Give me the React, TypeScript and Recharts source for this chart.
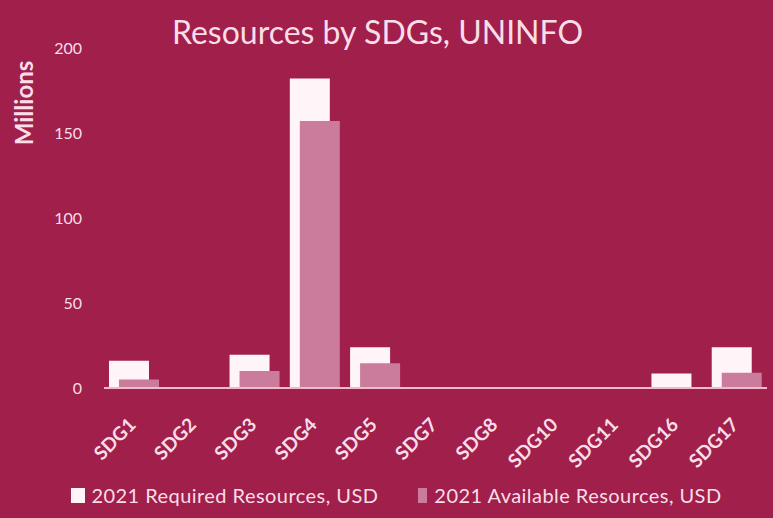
import React from 'react';
import { BarChart, Bar, XAxis, YAxis, Legend } from 'recharts';

const categories = ['SDG1', 'SDG2', 'SDG3', 'SDG4', 'SDG5', 'SDG7', 'SDG8', 'SDG10', 'SDG11', 'SDG16', 'SDG17'];
const requiredResources = [16, 0, 19.5, 182, 24, 0, 0, 0, 0, 8.5, 24];
const availableResources = [5, 0, 10, 157, 14.5, 0, 0, 0, 0, 0, 9];
const yTicks = [0, 50, 100, 150, 200];

const data = categories.map((c, i) => ({
  name: c,
  required: requiredResources[i],
  available: availableResources[i],
}));

const BG = '#A11F4B';
const TEXT = '#F9DDE8';
const REQ = '#FFF4F8';
const AVAIL = '#CB7B9B';
const FONT = 'Lato, "Open Sans", sans-serif';

const XTick = (props: any) => {
  const { x, y, payload } = props;
  const tx = x + 3;
  const ty = y + 30;
  return (
    <text
      x={tx}
      y={ty}
      transform={`rotate(-45 ${tx} ${ty})`}
      textAnchor="end"
      fill={TEXT}
      fontSize={19}
      fontWeight={700}
      fontFamily={FONT}
    >
      {payload.value}
    </text>
  );
};

const LegendContent = () => (
  <div
    style={{
      display: 'flex',
      justifyContent: 'center',
      alignItems: 'center',
      height: 30,
      fontFamily: FONT,
      fontSize: 20,
      letterSpacing: 0.45,
      color: TEXT,
      paddingLeft: 26,
    }}
  >
    <span style={{ display: 'inline-flex', alignItems: 'center', marginRight: 40 }}>
      <span style={{ width: 14, height: 15, background: REQ, display: 'inline-block', marginRight: 6 }} />
      2021 Required Resources, USD
    </span>
    <span style={{ display: 'inline-flex', alignItems: 'center' }}>
      <span style={{ width: 9, height: 15, background: AVAIL, display: 'inline-block', marginRight: 7 }} />
      2021 Available Resources, USD
    </span>
  </div>
);

const MillionsLabel = () => (
  <text
    x={33}
    y={103}
    transform="rotate(-90 33 103)"
    textAnchor="middle"
    fill={TEXT}
    fontSize={24}
    fontWeight={700}
    fontFamily={FONT}
  >
    Millions
  </text>
);

export default function App() {
  return (
    <div style={{ position: 'fixed', left: 0, top: 0, width: 773, height: 518, background: BG }}>
      <div
        style={{
          position: 'absolute',
          left: 0,
          top: 12,
          width: 755,
          textAlign: 'center',
          fontFamily: FONT,
          fontSize: 32,
          color: TEXT,
          lineHeight: '40px',
        }}
      >
        Resources by SDGs, UNINFO
      </div>
      <BarChart
        width={773}
        height={518}
        data={data}
        margin={{ top: 48, right: 6, bottom: 0, left: 0 }}
        barGap={-30}
        barSize={40}
      >
        <XAxis
          dataKey="name"
          interval={0}
          tickLine={false}
          axisLine={{ stroke: '#F2B8CC', strokeWidth: 2 }}
          tick={<XTick />}
          height={100}
        />
        <YAxis
          domain={[0, 200]}
          ticks={yTicks}
          width={104}
          axisLine={false}
          tickLine={false}
          tickSize={6}
          tickMargin={16}
          tick={{ fill: TEXT, fontSize: 16, fontFamily: FONT }}
          label={<MillionsLabel />}
        />
        <Legend
          verticalAlign="bottom"
          content={<LegendContent />}
          wrapperStyle={{ bottom: 8 }}
        />
        <Bar dataKey="required" name="2021 Required Resources, USD" fill={REQ} isAnimationActive={false} />
        <Bar dataKey="available" name="2021 Available Resources, USD" fill={AVAIL} isAnimationActive={false} />
      </BarChart>
    </div>
  );
}
